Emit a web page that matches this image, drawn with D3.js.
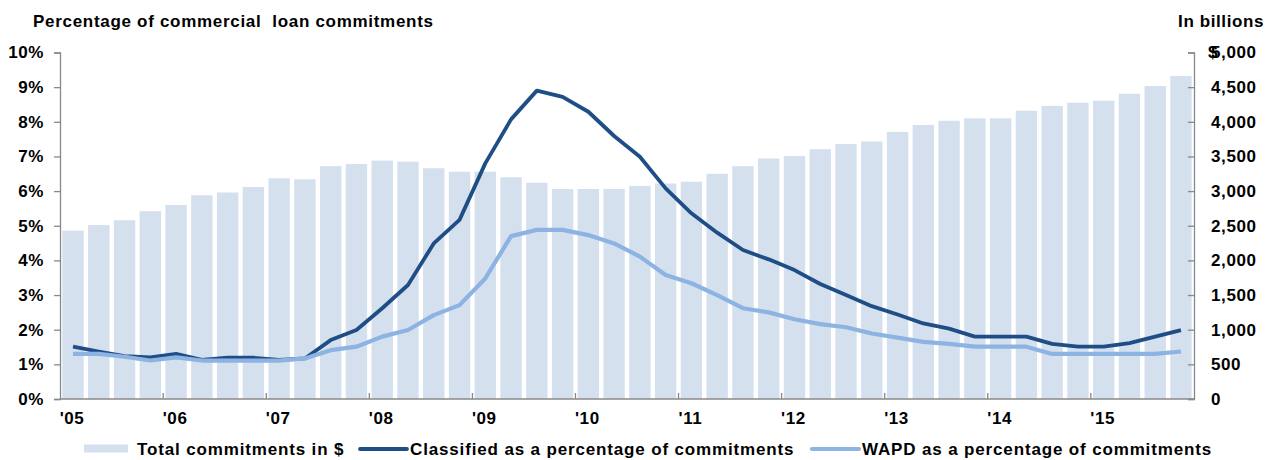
<!DOCTYPE html>
<html><head><meta charset="utf-8">
<script src="https://cdn.jsdelivr.net/npm/d3@7"></script>
<style>
body{margin:0;background:#fff}
text{font-family:Arial,"Liberation Sans",sans-serif;font-weight:bold;fill:#000}
</style>
</head><body>
<svg id="chart" width="1272" height="460"></svg>
<script>
const quarters = [
 "2005Q1","2005Q2","2005Q3","2005Q4","2006Q1","2006Q2","2006Q3","2006Q4",
 "2007Q1","2007Q2","2007Q3","2007Q4","2008Q1","2008Q2","2008Q3","2008Q4",
 "2009Q1","2009Q2","2009Q3","2009Q4","2010Q1","2010Q2","2010Q3","2010Q4",
 "2011Q1","2011Q2","2011Q3","2011Q4","2012Q1","2012Q2","2012Q3","2012Q4",
 "2013Q1","2013Q2","2013Q3","2013Q4","2014Q1","2014Q2","2014Q3","2014Q4",
 "2015Q1","2015Q2","2015Q3","2015Q4"];
const yearLabels = ["'05","'06","'07","'08","'09","'10","'11","'12","'13","'14","'15"];
const totalCommitments = [2430,2510,2580,2710,2800,2940,2980,3060,3185,3170,3360,3390,
 3440,3425,3330,3280,3280,3200,3120,3030,3030,3030,3075,3110,3135,3250,3360,3470,
 3505,3605,3680,3715,3855,3955,4015,4050,4050,4160,4230,4275,4305,4405,4515,4660];
const classifiedPct = [1.51,1.37,1.24,1.20,1.30,1.13,1.19,1.19,1.13,1.17,1.70,1.99,
 2.62,3.29,4.49,5.17,6.80,8.07,8.90,8.72,8.29,7.59,6.99,6.08,5.36,4.80,4.30,4.03,
 3.72,3.32,3.00,2.68,2.44,2.18,2.03,1.80,1.80,1.80,1.59,1.51,1.51,1.61,1.80,1.99];
const wapdPct = [1.30,1.30,1.22,1.11,1.20,1.11,1.11,1.11,1.11,1.17,1.41,1.51,
 1.80,1.99,2.42,2.71,3.48,4.70,4.88,4.88,4.73,4.49,4.11,3.58,3.34,3.00,2.62,2.50,
 2.30,2.16,2.07,1.89,1.77,1.65,1.59,1.51,1.51,1.51,1.30,1.30,1.30,1.30,1.30,1.37];
const pctTicks = [0,1,2,3,4,5,6,7,8,9,10];
const dollarTicks = [0,500,1000,1500,2000,2500,3000,3500,4000,4500,5000];

const svg = d3.select("#chart");
const L = 60, R = 1194, T = 52.5, B = 399;
const axisColor = "#888";
const barColor = "#d5e0ee", darkColor = "#1f4e86", lightColor = "#8db3e2";

const x = d3.scaleBand().domain(quarters).range([L, R]).paddingInner(0.17).paddingOuter(0.09);
const yP = d3.scaleLinear().domain([0, 10]).range([B, T]);
const yD = d3.scaleLinear().domain([0, 5000]).range([B, T]);
const step = x.step(), bw = x.bandwidth();

// bars
svg.append("g").selectAll("rect").data(quarters).join("rect")
  .attr("x", d => x(d)).attr("width", bw)
  .attr("y", (d,i) => yD(totalCommitments[i]))
  .attr("height", (d,i) => B - yD(totalCommitments[i]))
  .attr("fill", barColor);

// lines
const cx = d => x(d) + bw/2;
const lineC = d3.line().x((d,i) => cx(quarters[i])).y(d => yP(d));
svg.append("path").datum(classifiedPct).attr("d", lineC)
  .attr("fill","none").attr("stroke", darkColor).attr("stroke-width", 3.8)
  .attr("stroke-linejoin","round");
svg.append("path").datum(wapdPct).attr("d", lineC)
  .attr("fill","none").attr("stroke", lightColor).attr("stroke-width", 4.2)
  .attr("stroke-linejoin","round");

// left axis
const gL = svg.append("g").attr("transform", `translate(${L},0)`)
  .call(d3.axisLeft(yP).tickValues(pctTicks).tickSize(6).tickPadding(10).tickFormat(d => d + "%"));
// right axis
const gR = svg.append("g").attr("transform", `translate(${R},0)`)
  .call(d3.axisLeft(yD).tickValues(dollarTicks).tickSize(6).tickFormat(d3.format(",")));
gR.selectAll(".tick text").attr("text-anchor","start").attr("x", 17);
gR.append("text").attr("x", 14).attr("y", yD(5000)).attr("dy","0.34em")
  .attr("text-anchor","start").style("font-size","17px").text("$");

[gL, gR].forEach(g => {
  g.select(".domain").attr("stroke", axisColor).attr("stroke-width", 1.3);
  g.selectAll(".tick line").attr("stroke", axisColor).attr("stroke-width", 1.3);
  g.selectAll("text").style("font-size","17px").style("letter-spacing","0.6px").attr("fill","#000");
});

// bottom axis
const yearStarts = quarters.filter((q,i) => i % 4 === 0);
svg.append("line").attr("x1", L).attr("x2", R).attr("y1", B).attr("y2", B)
  .attr("stroke", axisColor).attr("stroke-width", 1.3);
svg.append("g").selectAll("line").data(yearStarts.slice(1)).join("line")
  .attr("x1", d => x(d) - (step - bw)/2).attr("x2", d => x(d) - (step - bw)/2)
  .attr("y1", B).attr("y2", B - 6).attr("stroke", axisColor).attr("stroke-width", 1.3);
svg.append("g").selectAll("text").data(yearStarts).join("text")
  .attr("x", d => cx(d) - 1).attr("y", 424).attr("text-anchor","middle")
  .style("font-size","17px").style("letter-spacing","0.6px")
  .text((d,i) => yearLabels[i]);

// titles
svg.append("text").attr("x", 33).attr("y", 26.5).style("font-size","17px")
  .style("letter-spacing","0.7px").text("Percentage of commercial  loan commitments")
  .attr("xml:space","preserve").style("white-space","pre");
svg.append("text").attr("x", 1264).attr("y", 26.5).attr("text-anchor","end")
  .style("font-size","17px").style("letter-spacing","0.6px").text("In billions");

// legend
const lg = svg.append("g");
lg.append("rect").attr("x", 84).attr("y", 444.5).attr("width", 44).attr("height", 8).attr("fill", barColor);
lg.append("text").attr("x", 137).attr("y", 455).style("font-size","17px").style("letter-spacing","0.85px")
  .text("Total commitments in $");
lg.append("line").attr("x1", 360).attr("x2", 407).attr("y1", 449).attr("y2", 449)
  .attr("stroke", darkColor).attr("stroke-width", 3.8).attr("stroke-linecap","round");
lg.append("text").attr("x", 410).attr("y", 455).style("font-size","17px").style("letter-spacing","0.85px")
  .text("Classified as a percentage of commitments");
lg.append("line").attr("x1", 812).attr("x2", 859).attr("y1", 449).attr("y2", 449)
  .attr("stroke", lightColor).attr("stroke-width", 4.2).attr("stroke-linecap","round");
lg.append("text").attr("x", 862).attr("y", 455).style("font-size","17px").style("letter-spacing","0.85px")
  .text("WAPD as a percentage of commitments");
</script>
</body></html>
